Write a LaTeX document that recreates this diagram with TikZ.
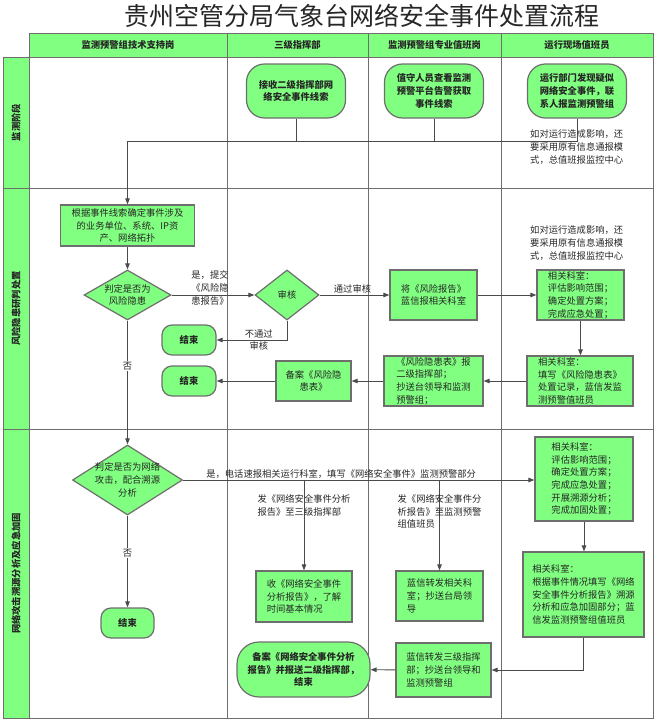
\documentclass[tikz,border=0pt]{standalone}
\usepackage{fontspec}
\setmainfont{Noto Sans CJK SC}
\usetikzlibrary{arrows.meta,shapes.geometric,positioning}
\definecolor{lanegreen}{HTML}{80FF80}
\definecolor{edgegray}{HTML}{6E6E6E}
\definecolor{linegray}{HTML}{4A4A4A}
\definecolor{textgray}{HTML}{262626}

\begin{document}
\begin{tikzpicture}[x=1pt,y=-1pt,
  font=\fontsize{9.3}{12.6}\selectfont, text=textgray,
  grid/.style={draw=edgegray,line width=1pt},
  head/.style={draw=edgegray,fill=lanegreen,line width=1pt,font=\fontsize{9.3}{12}\selectfont\bfseries,minimum height=24pt,inner sep=0pt},
  lane/.style={draw=edgegray,fill=lanegreen,line width=1pt,rotate=90,minimum height=26pt,inner sep=0pt,font=\fontsize{9.3}{12}\selectfont\bfseries},
  box/.style={draw=edgegray,fill=lanegreen,line width=1.2pt,align=left,inner xsep=2pt,inner ysep=0pt},
  term/.style={draw=edgegray,fill=lanegreen,line width=1.2pt,align=center,inner sep=1pt,font=\fontsize{9.3}{12.6}\selectfont\bfseries},
  decide/.style={diamond,draw=edgegray,fill=lanegreen,line width=1.2pt,inner sep=0pt},
  lbl/.style={align=center,inner sep=1pt},
  note/.style={align=left,inner sep=2pt},
  link/.style={draw=linegray,line width=0.9pt},
  arrow/.style={link,-{Triangle[length=6pt,width=4.5pt]}}]
\useasboundingbox (0,0) rectangle (655,720);

% title
\node[font=\fontsize{25}{30}\selectfont] (title) at (362,16) {贵州空管分局气象台网络安全事件处置流程};

% lanes
\draw[grid] (29,57) rectangle (653,718);
\draw[grid] (3,188) -- (653,188);
\draw[grid] (3,429) -- (653,429);
\draw[grid] (227,33) -- (227,718);
\draw[grid] (368,33) -- (368,718);
\draw[grid] (501,33) -- (501,718);
\node[head,minimum width=198pt] (h1) at (128,45) {监测预警组技术支持岗};
\node[head,minimum width=141pt] (h2) at (297.5,45) {三级指挥部};
\node[head,minimum width=133pt] (h3) at (434.5,45) {监测预警组专业值班岗};
\node[head,minimum width=152pt] (h4) at (577,45) {运行现场值班员};
\node[lane,minimum width=131pt] (p1) at (16,122.5) {监测阶段};
\node[lane,minimum width=241pt] (p2) at (16,308.5) {风险隐患研判处置};
\node[lane,minimum width=289pt] (p3) at (16,573.5) {网络攻击溯源分析及应急加固};

% monitoring
\node[term,minimum width=99pt,minimum height=54pt,rounded corners=18pt] (recv) at (296,91) {接收二级指挥部网\\络安全事件线索};
\node[term,minimum width=99pt,minimum height=54pt,rounded corners=18pt] (watch) at (434,91) {值守人员查看监测\\预警平台告警获取\\事件线索};
\node[term,minimum width=99pt,minimum height=54pt,rounded corners=18pt] (field) at (577,91) {运行部门发现疑似\\网络安全事件，联\\系人报监测预警组};
\node[note,anchor=west] (n1) at (528,147) {如对运行造成影响，还\\要采用原有信息通报模\\式，总值班报监控中心};

% risk
\node[box,align=center,minimum width=134pt,minimum height=41pt] (locate) at (127.5,225.5) {根据事件线索确定事件涉及\\的业务单位、系统、IP资\\产、网络拓扑};
\node[decide,minimum width=87pt,minimum height=50pt,label={[lbl]center:判定是否为\\风险隐患}] (risk) at (127.5,295) {};
\node[decide,minimum width=64pt,minimum height=50pt,label={[lbl]center:审核}] (audit) at (287,295) {};
\node[term,minimum width=54pt,minimum height=30pt,rounded corners=10pt] (endA) at (189,340) {结束};
\node[term,minimum width=54pt,minimum height=30pt,rounded corners=10pt] (endB) at (189,381) {结束};
\node[box,align=center,minimum width=75pt,minimum height=40pt] (fileA) at (313.5,381) {备案《风险隐\\患表》};
\node[box,minimum width=87pt,minimum height=50pt] (send) at (433.5,295) {将《风险报告》\\蓝信报相关科室};
\node[box,minimum width=87pt,minimum height=50pt] (deal) at (580.5,295) {相关科室：\\评估影响范围；\\确定处置方案；\\完成应急处置；};
\node[note,anchor=west] (n2) at (528,243) {如对运行造成影响，还\\要采用原有信息通报模\\式，总值班报监控中心};
\node[box,minimum width=106pt,minimum height=50pt] (record) at (580,381) {相关科室：\\填写《风险隐患表》\\处置记录，蓝信发监\\测预警值班员};
\node[box,minimum width=99pt,minimum height=50pt] (report) at (433.5,381) {《风险隐患表》报\\二级指挥部；\\抄送台领导和监测\\预警组；};

% attack
\node[decide,minimum width=110pt,minimum height=70pt,label={[lbl]center:判定是否为网络\\攻击，配合溯源\\分析}] (attack) at (127.5,480) {};
\node[term,minimum width=53pt,minimum height=30pt,rounded corners=10pt] (endC) at (127.5,623) {结束};
\node[box,minimum width=98pt,minimum height=84pt] (fix) at (584,479) {相关科室：\\评估影响范围；\\确定处置方案；\\完成应急处置；\\开展溯源分析；\\完成加固处置；};
\node[box,minimum width=121pt,minimum height=85pt] (trace) at (583.5,594.5) {相关科室：\\根据事件情况填写《网络\\安全事件分析报告》溯源\\分析和应急加固部分；蓝\\信发监测预警组值班员};
\node[box,minimum width=96pt,minimum height=51pt] (recv3) at (304,596.5) {收《网络安全事件\\分析报告》，了解\\时间基本情况};
\node[box,minimum width=87pt,minimum height=50pt] (fwd) at (439.5,596) {蓝信转发相关科\\室；抄送台局领\\导};
\node[box,minimum width=95pt,minimum height=54pt] (fwd3) at (443.5,670) {蓝信转发三级指挥\\部；抄送台领导和\\监测预警组};
\node[term,minimum width=133pt,minimum height=55pt,rounded corners=22pt] (fileB) at (303.5,669.5) {备案《网络安全事件分析\\报告》并报送二级指挥部，\\结束};

% connectors
\coordinate (merge) at (127.5,141);
\draw[link] (field.south) |- (merge);
\draw[link] (watch.south) -- (watch.south |- merge);
\draw[link] (recv.south) -- (recv.south |- merge);
\draw[arrow] (merge) -- (locate.north);
\draw[arrow] (locate) -- (risk);
\draw[arrow] (risk) -- node[lbl,yshift=7pt,xshift=-3pt] {是，提交\\《风险隐\\患报告》} (audit);
\draw[arrow] (audit.south) |- node[lbl,pos=0.7] {不通过\\审核} (endA.east);
\draw[arrow] (audit) -- node[lbl,above,xshift=-2pt] {通过审核} (send);
\draw[arrow] (send) -- (deal);
\draw[arrow] (deal.south) -- (deal.south |- record.north);
\draw[arrow] (record) -- (report);
\draw[arrow] (report) -- (fileA);
\draw[arrow] (fileA) -- (endB);
\draw[arrow] (risk) -- node[lbl,fill=white,pos=0.37] {否} (attack);
\draw[arrow] (attack) -- node[lbl,fill=white,pos=0.41] {否} (endC);
\coordinate (split) at (attack.east);
\draw[arrow] (split) -- node[lbl,above,pos=0.45] {是，电话速报相关运行科室，填写《网络安全事件》监测预警部分} (split -| fix.west);
\draw[arrow] (split -| recv3.north) -- node[lbl,align=left,pos=0.28] {发《网络安全事件分析\\报告》至三级指挥部} (recv3.north);
\draw[arrow] (split -| fwd.north) -- node[lbl,align=left,pos=0.35] {发《网络安全事件分\\析报告》至监测预警\\组值班员} (fwd.north);
\draw[arrow] (fix.south) -- (fix.south |- trace.north);
\draw[arrow] (trace.south) |- (fwd3.east);
\draw[arrow] (fwd3) -- (fileB);
\end{tikzpicture}
\end{document}
